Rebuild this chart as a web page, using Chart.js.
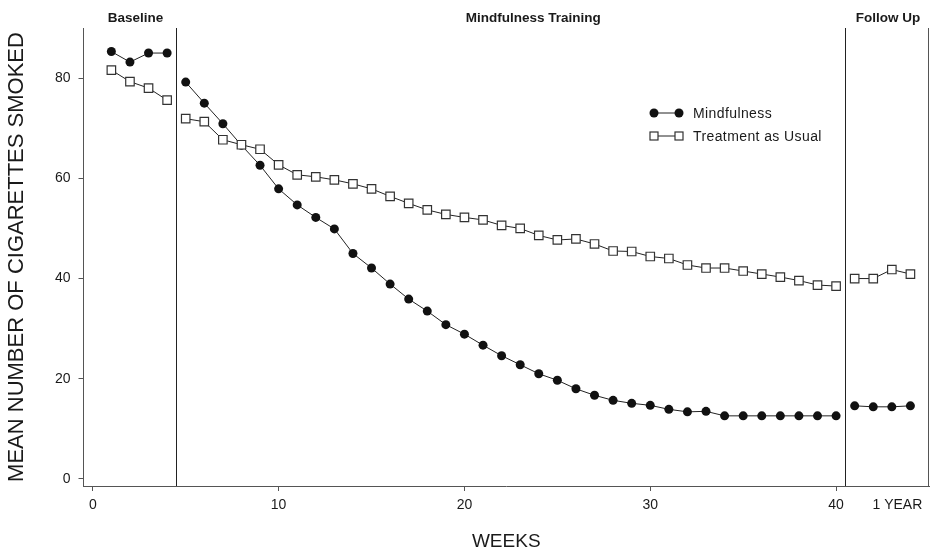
<!DOCTYPE html>
<html>
<head>
<meta charset="utf-8">
<script src="https://cdn.jsdelivr.net/npm/chart.js@4.4.1/dist/chart.umd.min.js"></script>
<style>
  html, body { margin: 0; padding: 0; background: #fff; }
  #wrap { width: 930px; height: 554px; }
</style>
</head>
<body>
<div id="wrap"><canvas id="chart" width="930" height="554"></canvas></div>
<script>
// weeks for each phase
const baselineWeeks = [1, 2, 3, 4];
const trainingWeeks = [5, 6, 7, 8, 9, 10, 11, 12, 13, 14, 15, 16, 17, 18, 19, 20, 21, 22,
    23, 24, 25, 26, 27, 28, 29, 30, 31, 32, 33, 34, 35, 36, 37, 38, 39, 40];
const followUpWeeks = [41, 42, 43, 44];

// Mindfulness group
const mindBaseline = [85.3, 83.2, 85.0, 85.0];
const mindTraining = [79.2, 75.0, 70.9, 66.6, 62.6, 57.9, 54.7, 52.2, 49.9, 45.0, 42.1, 38.9,
    35.9, 33.5, 30.8, 28.9, 26.7, 24.6, 22.8, 21.0, 19.7, 18.0, 16.7, 15.7, 15.1, 14.7,
    13.9, 13.4, 13.5, 12.6, 12.6, 12.6, 12.6, 12.6, 12.6, 12.6];
const mindFollowUp = [14.6, 14.4, 14.4, 14.6];

// Treatment as usual group
const tauBaseline = [81.6, 79.3, 78.0, 75.6];
const tauTraining = [71.9, 71.3, 67.7, 66.7, 65.8, 62.7, 60.7, 60.3, 59.7, 58.9, 57.9, 56.4,
    55.0, 53.7, 52.8, 52.2, 51.7, 50.6, 50.0, 48.6, 47.7, 47.9, 46.9, 45.5, 45.4, 44.4,
    44.0, 42.7, 42.1, 42.1, 41.5, 40.9, 40.3, 39.6, 38.7, 38.5];
const tauFollowUp = [40.0, 40.0, 41.8, 40.9];

// phase boundaries and titles
const phaseBreaks = [4.5, 40.5];
const phaseNames = ["Baseline", "Mindfulness Training", "Follow Up"];
const phaseLabelAt = [2.3, 23.7, 42.8];

// axis ticks
const xTickValues = [0, 10, 20, 30, 40, 43.3];
const xTickLabels = ["0", "10", "20", "30", "40", "1 YEAR"];
const yTickValues = [0, 20, 40, 60, 80];

const seriesNames = ["Mindfulness", "Treatment as Usual"];

const toPoints = (weeks, vals) => weeks.map((w, i) => ({ x: w, y: vals[i] }));
const buildSeries = (b, t, f) => [
    ...toPoints(baselineWeeks, b),
    { x: phaseBreaks[0], y: null },
    ...toPoints(trainingWeeks, t),
    { x: phaseBreaks[1], y: null },
    ...toPoints(followUpWeeks, f)
];

const FONT = "'Liberation Sans', Arial, Helvetica, sans-serif";
const INK = "#1a1a1a";
const AXIS = "#555";

const phasePlugin = {
    id: "phases",
    afterDatasetsDraw(chart) {
        const { ctx, chartArea, scales: { x } } = chart;
        ctx.save();
        ctx.strokeStyle = "#222";
        ctx.lineWidth = 1;
        phaseBreaks.forEach(v => {
            const px = Math.round(x.getPixelForValue(v)) + 0.5;
            ctx.beginPath();
            ctx.moveTo(px, chartArea.top);
            ctx.lineTo(px, chartArea.bottom);
            ctx.stroke();
        });
        // right frame line
        ctx.strokeStyle = AXIS;
        const rx = Math.round(chartArea.right) - 0.5;
        ctx.beginPath();
        ctx.moveTo(rx, chartArea.top);
        ctx.lineTo(rx, chartArea.bottom);
        ctx.stroke();

        ctx.fillStyle = INK;
        ctx.font = "bold 13.5px " + FONT;
        ctx.textAlign = "center";
        ctx.textBaseline = "middle";
        phaseNames.forEach((name, i) => {
            ctx.fillText(name, x.getPixelForValue(phaseLabelAt[i]), 18);
        });

        // legend
        const lx1 = 654, lx2 = 679, tx = 693;
        const rows = [113, 136];
        ctx.font = "14px " + FONT;
        ctx.letterSpacing = "0.4px";
        ctx.textAlign = "left";
        rows.forEach((ly, i) => {
            ctx.strokeStyle = "#222";
            ctx.lineWidth = 1;
            ctx.beginPath();
            ctx.moveTo(lx1, ly);
            ctx.lineTo(lx2, ly);
            ctx.stroke();
            [lx1, lx2].forEach(px => {
                if (i === 0) {
                    ctx.fillStyle = "#111";
                    ctx.beginPath();
                    ctx.arc(px, ly, 4.5, 0, Math.PI * 2);
                    ctx.fill();
                } else {
                    ctx.fillStyle = "#fff";
                    ctx.strokeStyle = "#333";
                    ctx.lineWidth = 1.2;
                    ctx.fillRect(px - 4, ly - 4, 8, 8);
                    ctx.strokeRect(px - 4, ly - 4, 8, 8);
                }
            });
            ctx.fillStyle = INK;
            ctx.fillText(seriesNames[i], tx, ly + 1);
        });
        ctx.restore();
    }
};

new Chart(document.getElementById("chart"), {
    type: "line",
    data: {
        datasets: [
            {
                label: seriesNames[1],
                data: buildSeries(tauBaseline, tauTraining, tauFollowUp),
                borderColor: "#222",
                borderWidth: 1,
                pointStyle: "rect",
                pointRadius: 6,
                pointBackgroundColor: "#fff",
                pointBorderColor: "#333",
                pointBorderWidth: 1.2,
                tension: 0,
                order: 0
            },
            {
                label: seriesNames[0],
                data: buildSeries(mindBaseline, mindTraining, mindFollowUp),
                borderColor: "#222",
                borderWidth: 1,
                pointStyle: "circle",
                pointRadius: 4.5,
                pointBackgroundColor: "#111",
                pointBorderColor: "#111",
                pointBorderWidth: 0,
                tension: 0,
                order: 1
            }
        ]
    },
    options: {
        responsive: false,
        animation: false,
        spanGaps: false,
        layout: {
            autoPadding: false,
            padding: { top: 28, right: 1, bottom: 0, left: 0 }
        },
        plugins: {
            legend: { display: false },
            tooltip: { enabled: false }
        },
        scales: {
            x: {
                type: "linear",
                min: -0.5,
                max: 45,
                afterFit: (scale) => {
                    scale.height = 68;
                    scale.paddingLeft = 0;
                    scale.paddingRight = 0;
                },
                afterBuildTicks: (scale) => {
                    scale.ticks = xTickValues.map(v => ({ value: v }));
                },
                ticks: {
                    color: INK,
                    font: { family: FONT, size: 14 },
                    padding: 6,
                    maxRotation: 0,
                    autoSkip: false,
                    callback: (value) => {
                        const i = xTickValues.indexOf(value);
                        return i >= 0 ? xTickLabels[i] : "";
                    }
                },
                grid: {
                    drawOnChartArea: false,
                    drawTicks: true,
                    tickLength: 5,
                    tickColor: (ctx) => (ctx.tick && ctx.tick.value === 43.3) ? "rgba(0,0,0,0)" : AXIS
                },
                border: { display: true, color: AXIS, width: 1 },
                title: {
                    display: true,
                    text: "WEEKS",
                    color: INK,
                    font: { family: FONT, size: 19 },
                    padding: { top: 0, bottom: 1 }
                }
            },
            y: {
                min: -1.4,
                max: 90,
                afterFit: (scale) => {
                    scale.width = 83.5;
                    scale.paddingTop = 0;
                    scale.paddingBottom = 0;
                },
                afterBuildTicks: (scale) => {
                    scale.ticks = yTickValues.map(v => ({ value: v }));
                },
                ticks: {
                    color: INK,
                    font: { family: FONT, size: 14 },
                    padding: 8
                },
                grid: {
                    drawOnChartArea: false,
                    drawTicks: true,
                    tickLength: 5,
                    tickColor: AXIS
                },
                border: { display: true, color: AXIS, width: 1 },
                title: {
                    display: true,
                    text: "MEAN NUMBER OF CIGARETTES SMOKED",
                    color: INK,
                    font: { family: FONT, size: 22 },
                    padding: { top: 4, bottom: 0 }
                }
            }
        }
    },
    plugins: [phasePlugin]
});
</script>
</body>
</html>
